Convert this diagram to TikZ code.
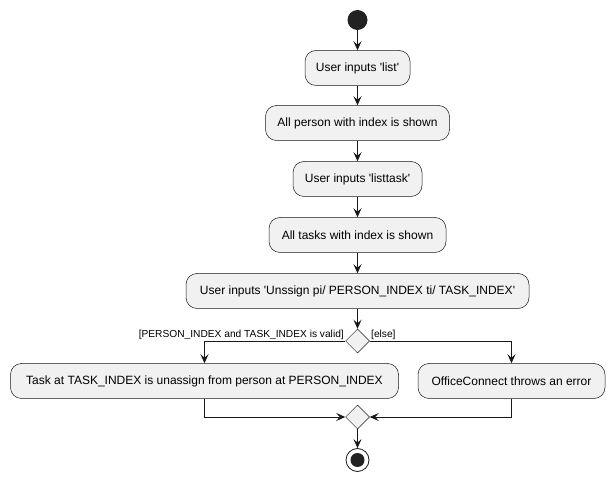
\documentclass[tikz,border=0pt]{standalone}
\usepackage{fontspec}
\setmainfont{Liberation Sans}
\usetikzlibrary{arrows.meta}
\usetikzlibrary{shapes.geometric}
\definecolor{actfill}{HTML}{F1F1F1}
\definecolor{actline}{HTML}{181818}
\definecolor{dotfill}{HTML}{222222}
\newcommand{\sq}{\textquotesingle}

\begin{document}
\begin{tikzpicture}[x=1pt,y=-1pt,
		act/.style={draw=actline,fill=actfill,line width=0.5pt,rounded corners=11pt,
			minimum height=35pt,inner xsep=4pt,font=\fontsize{12}{14}\selectfont},
		choice/.style={diamond,draw=actline,fill=actfill,line width=0.5pt,aspect=1,
			minimum width=24pt,minimum height=24pt,inner sep=0pt},
		flow/.style={draw=actline,line width=0.8pt,-{Stealth[length=9pt,width=8pt,inset=3.5pt]}},
		guard/.style={font=\fontsize{10.2}{12}\selectfont,inner sep=1pt}]
				\useasboundingbox (0,0) rectangle (614,481);
				% start and the actions on the main line
				\node[circle,fill=dotfill,minimum size=20pt,inner sep=0pt] (start) at (357.5,20) {};
				\node[act,minimum width=105pt] (list) at (357.5,68) {User inputs \sq list\sq};
				\node[act,minimum width=184pt] (persons) at (357.5,123) {All person with index is shown};
				\node[act,minimum width=129pt] (listtask) at (357.5,179) {User inputs \sq listtask\sq};
				\node[act,minimum width=177pt] (tasks) at (357.5,235) {All tasks with index is shown};
				\node[act,minimum width=343pt] (unassign) at (357.5,291) {User inputs \sq Unssign pi/ PERSON\_INDEX ti/ TASK\_INDEX\sq};
				\node[choice] (check) at (357.5,341) {};
				\node[guard,anchor=south east] (valid) at (345,341) {[PERSON\_INDEX and TASK\_INDEX is valid]};
				\node[guard,anchor=south west] (other) at (370,341) {[else]};
				% the two branches
				\node[act,minimum width=388pt] (done) at (204.5,381) {Task at TASK\_INDEX is unassign from person at PERSON\_INDEX};
				\node[act,minimum width=187pt] (error) at (511.5,381) {OfficeConnect throws an error};
				\node[choice] (merge) at (357.5,417) {};
				\node[circle,draw=actline,line width=0.8pt,minimum size=23pt,inner sep=0pt] (stop) at (357.5,460) {};
				\fill[dotfill] (stop) circle (7pt);
				\draw[flow] (start) -- (list);
				\draw[flow] (list) -- (persons);
				\draw[flow] (persons) -- (listtask);
				\draw[flow] (listtask) -- (tasks);
				\draw[flow] (tasks) -- (unassign);
				\draw[flow] (unassign) -- (check);
				\draw[flow] (check.west) -| (done);
				\draw[flow] (check.east) -| (error);
				\draw[flow] (done) |- (merge.west);
				\draw[flow] (error) |- (merge.east);
				\draw[flow] (merge) -- (stop);
			\end{tikzpicture}
\end{document}
